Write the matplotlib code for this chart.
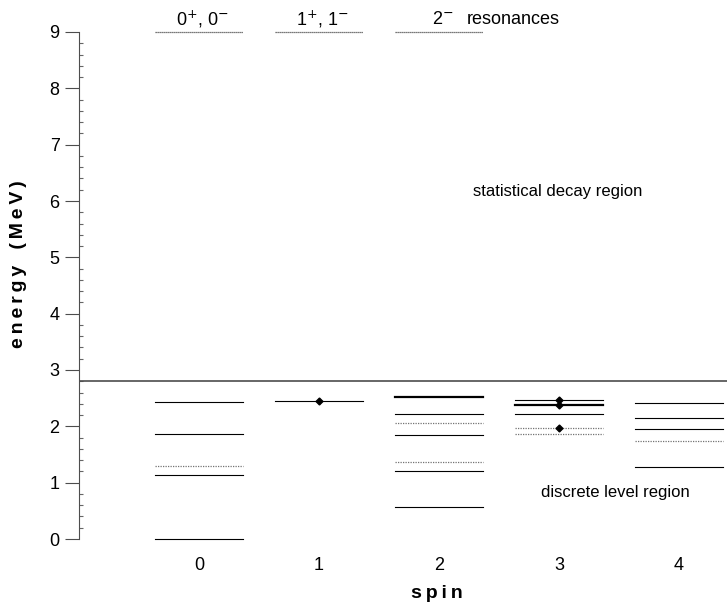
import numpy as np
import matplotlib
matplotlib.use('Agg')
import matplotlib.pyplot as plt
from matplotlib.ticker import MultipleLocator

plt.rcParams['font.family'] = ['Liberation Sans', 'DejaVu Sans']
plt.rcParams['font.size'] = 12

# level energies (MeV) for each spin
spins = [0, 1, 2, 3, 4]
levels = {
    0: [2.43, 1.86, 1.30, 1.14, 0.0],
    1: [2.45],
    2: [2.52, 2.22, 2.06, 1.85, 1.37, 1.21, 0.57],
    3: [2.47, 2.38, 2.22, 1.97, 1.86],
    4: [2.41, 2.15, 1.95, 1.74, 1.28],
}
# energies of levels drawn faint (dotted) or heavy
faint = {0: [1.30], 2: [2.06, 1.37], 3: [1.97, 1.86], 4: [1.74]}
heavy = {2: [2.52], 3: [2.38]}
# levels marked with a dot
marked_spin = [1, 3, 3, 3]
marked_energy = [2.45, 2.47, 2.38, 1.97]

res_spins = [0, 1, 2]
res_energy = 9.0
res_labels = ['0$^{+}$, 0$^{-}$', '1$^{+}$, 1$^{-}$', '2$^{-}$']
e_cut = 2.8

fig = plt.figure(figsize=(7.27, 6.05), dpi=100)
ax = fig.add_axes([79 / 727, 66 / 605, 648 / 727, 507 / 605])

hw = 0.365
for s in spins:
    for e in levels[s]:
        if e in faint.get(s, []):
            ax.plot([s - hw, s + hw], [e, e], color='0.45', lw=0.9, ls=(0, (1, 1)), clip_on=False)
        elif e in heavy.get(s, []):
            ax.plot([s - hw, s + hw], [e, e], color='black', lw=1.6, clip_on=False)
        else:
            ax.plot([s - hw, s + hw], [e, e], color='black', lw=0.8, clip_on=False)

ax.plot(marked_spin, marked_energy, 'D', color='black', ms=3.5, clip_on=False)

for s, lab in zip(res_spins, res_labels):
    ax.plot([s - hw, s + hw], [res_energy, res_energy], color='0.3', lw=0.9,
            ls=(0, (1, 0.6)), clip_on=False)
    ax.text(s + 0.03, res_energy + 0.23, lab, ha='center', va='center', fontsize=13)
ax.text(2.23, res_energy + 0.23, 'resonances', ha='left', va='center', fontsize=13)

ax.axhline(e_cut, color='0.3', lw=1.2)

ax.text(2.28, 6.16, 'statistical decay region', ha='left', va='center', fontsize=12)
ax.text(2.85, 0.82, 'discrete level region', ha='left', va='center', fontsize=12)

ax.set_xlim(-1, 4.4)
ax.set_ylim(0, 9)
for side in ['top', 'right', 'bottom']:
    ax.spines[side].set_visible(False)
ax.spines['left'].set_color('0.3')
ax.spines['left'].set_linewidth(0.8)

ax.set_xticks(spins)
ax.tick_params(axis='x', length=0, pad=13, labelsize=13)
ax.set_yticks(np.arange(0, 10, 1))
ax.yaxis.set_minor_locator(MultipleLocator(0.2))
ax.tick_params(axis='y', which='major', direction='out', length=10, width=0.8,
               color='0.3', labelsize=13, pad=4)
ax.tick_params(axis='y', which='minor', direction='in', length=3, width=0.8, color='0.4')

ts = '\u2009'
fig.text(437 / 727, 1 - 594 / 605, ts.join('spin'), ha='center', va='center',
         fontsize=14, fontweight='bold')
fig.text(19 / 727, 1 - 264 / 605, ts.join('energy') + '   ' + ts.join('(MeV)'),
         ha='center', va='center', rotation=90, fontsize=14, fontweight='bold')

plt.savefig('out.png', dpi=100)
